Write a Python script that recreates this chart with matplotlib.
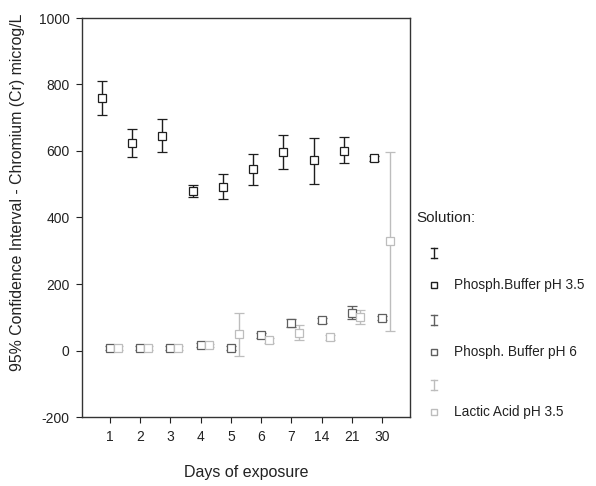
import matplotlib
matplotlib.use("Agg")
import matplotlib.pyplot as plt
from matplotlib.lines import Line2D
import numpy as np

plt.rcParams['font.family'] = ['Liberation Sans', 'DejaVu Sans']
plt.rcParams['axes.unicode_minus'] = False

days = ["1", "2", "3", "4", "5", "6", "7", "14", "21", "30"]

ph35_mean = [758, 623, 646, 479, 493, 545, 597, 572, 601, 578]
ph35_low = [709, 583, 598, 461, 456, 497, 546, 502, 564, 570]
ph35_high = [810, 665, 695, 497, 531, 590, 649, 639, 643, 586]

ph6_mean = [8, 8, 8, 16, 8, 46, 84, 91, 114, 98]
ph6_low = [3, 3, 3, 10, 3, 38, 72, 84, 95, 91]
ph6_high = [13, 13, 13, 22, 13, 54, 96, 98, 135, 105]

lac_mean = [8, 8, 8, 16, 50, 31, 54, 40, 102, 329]
lac_low = [3, 3, 3, 11, -17, 24, 32, 33, 81, 59]
lac_high = [13, 13, 13, 21, 114, 38, 76, 47, 121, 598]

labels = ["Phosph.Buffer pH 3.5", "Phosph. Buffer pH 6", "Lactic Acid pH 3.5"]
colors = ["#1e1e1e", "#5f5f5f", "#bdbdbd"]
offsets = [-0.265, 0.0, 0.265]

fig = plt.figure(figsize=(5.96, 4.86), dpi=100)
W, H = 596, 486
ax = fig.add_axes([82 / W, 1 - 417 / H, (410 - 82) / W, (417 - 18) / H])

x = np.arange(len(days))
series = [(ph35_mean, ph35_low, ph35_high), (ph6_mean, ph6_low, ph6_high),
          (lac_mean, lac_low, lac_high)]
for (m, lo, hi), c, off in zip(series, colors, offsets):
    m = np.array(m); lo = np.array(lo); hi = np.array(hi)
    ax.errorbar(x + off, m, yerr=[m - lo, hi - m], fmt='s', mfc='white',
                mec=c, ecolor=c, mew=0.9, ms=6, elinewidth=1.0,
                capsize=3.3, capthick=1.0, zorder=3)

ax.set_xlim(-0.93, 9.93)
ax.set_ylim(-200, 1000)
ax.set_xticks(x)
ax.set_xticklabels(days)
ax.set_yticks(np.arange(-200, 1001, 200))
ax.tick_params(direction='out', length=4, width=0.8, labelsize=10, colors='#222222',
               pad=5)
for s in ax.spines.values():
    s.set_color('#333333')
    s.set_linewidth(1.0)

fig.text(246 / W, 1 - 472 / H, "Days of exposure", ha='center', va='center',
         fontsize=11.5, color='#222222')
fig.text(18 / W, 1 - 192 / H, "95% Confidence Interval - Chromium (Cr) microg/L",
         ha='center', va='center', rotation=90, fontsize=11.4, color='#222222')

# legend
fig.text(416 / W, 1 - 218 / H, "Solution:", ha='left', va='center',
         fontsize=11, color='#222222')
ys = [(253, 285), (320, 352), (385, 412)]
ix = 434
for (ye, ysq), c, lab in zip(ys, colors, labels):
    fig.add_artist(Line2D([ix / W, ix / W], [1 - (ye - 5) / H, 1 - (ye + 5) / H],
                          color=c, lw=1.0, transform=fig.transFigure))
    for yy in (ye - 5, ye + 5):
        fig.add_artist(Line2D([(ix - 3) / W, (ix + 3) / W], [1 - yy / H, 1 - yy / H],
                              color=c, lw=1.0, transform=fig.transFigure))
    fig.add_artist(Line2D([ix / W], [1 - ysq / H], marker='s', ms=4.3, mfc='white',
                          mec=c, mew=1.0, transform=fig.transFigure))
    fig.text(454 / W, 1 - ysq / H, lab, ha='left', va='center', fontsize=9.8,
             color='#222222')

fig.savefig("out.png", dpi=100)
